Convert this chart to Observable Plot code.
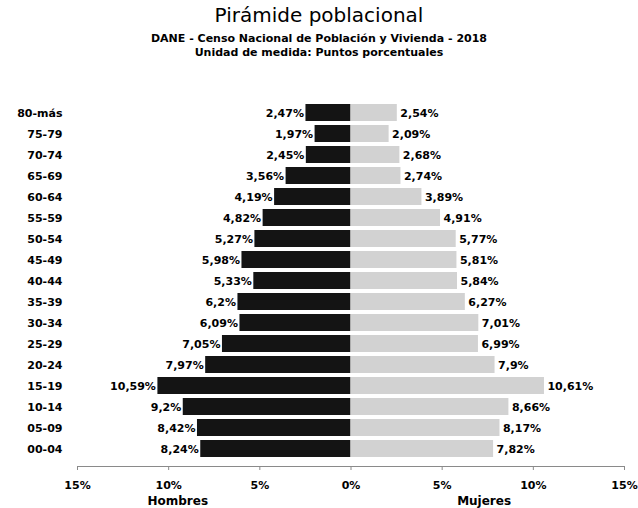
<!DOCTYPE html>
<html>
<head>
<meta charset="utf-8">
<script src="https://cdn.jsdelivr.net/npm/d3@7"></script>
<script src="https://cdn.jsdelivr.net/npm/@observablehq/plot@0.6"></script>
<style>
  body { margin: 0; background: #fff; font-family: "DejaVu Sans", sans-serif; }
  #head { height: 65px; text-align: center; color: #000; }
  #title { font-size: 20px; line-height: 24px; padding-top: 3px; }
  .sub { font-size: 11px; font-weight: 700; line-height: 14px; }
  .sub.first { margin-top: 5px; }
</style>
</head>
<body>
<div id="head">
  <div id="title">Pirámide poblacional</div>
  <div class="sub first">DANE - Censo Nacional de Población y Vivienda - 2018</div>
  <div class="sub">Unidad de medida: Puntos porcentuales</div>
</div>
<div id="chart"></div>
<script>
const ageGroups = ["80-más","75-79","70-74","65-69","60-64","55-59","50-54","45-49","40-44","35-39","30-34","25-29","20-24","15-19","10-14","05-09","00-04"];
const hombres = [2.47,1.97,2.45,3.56,4.19,4.82,5.27,5.98,5.33,6.2,6.09,7.05,7.97,10.59,9.2,8.42,8.24];
const mujeres = [2.54,2.09,2.68,2.74,3.89,4.91,5.77,5.81,5.84,6.27,7.01,6.99,7.9,10.61,8.66,8.17,7.82];
const xTicks = [-15,-10,-5,0,5,10,15];
const sideLabels = [{x: -9.5, t: "Hombres"}, {x: 7.3, t: "Mujeres"}];

const fmt = v => String(v).replace(".", ",") + "%";
const rows = [];
ageGroups.forEach((g, i) => {
  rows.push({age: g, sexo: "Hombres", v: -hombres[i], label: fmt(hombres[i])});
  rows.push({age: g, sexo: "Mujeres", v: mujeres[i], label: fmt(mujeres[i])});
});
const men = rows.filter(d => d.sexo === "Hombres");
const women = rows.filter(d => d.sexo === "Mujeres");

const chart = Plot.plot({
  width: 638,
  height: 443,
  marginTop: 30,
  marginBottom: 42,
  marginLeft: 77,
  marginRight: 14,
  style: {fontFamily: "DejaVu Sans, sans-serif", color: "#000", background: "#fff"},
  x: {domain: [-15, 15]},
  y: {domain: ageGroups, padding: 0.2},
  color: {domain: ["Hombres", "Mujeres"], range: ["#141414", "#d2d2d2"]},
  marks: [
    Plot.barX(rows, {x: "v", y: "age", fill: "sexo"}),
    Plot.text(men, {x: "v", y: "age", text: "label", textAnchor: "end", dx: -2, fontSize: 11, fontWeight: 700, fill: "#000"}),
    Plot.text(women, {x: "v", y: "age", text: "label", textAnchor: "start", dx: 3, fontSize: 11, fontWeight: 700, fill: "#000"}),
    Plot.frame({anchor: "bottom", stroke: "#8a8a8a"}),
    Plot.axisX({ticks: xTicks, tickFormat: d => Math.abs(d) + "%", tickSize: 4, tickPadding: 11, fontSize: 11, fontWeight: 700, stroke: "#8a8a8a", label: null}),
    Plot.axisY({tickSize: 0, tickPadding: 15, fontSize: 11, fontWeight: 700, label: null}),
    Plot.text(sideLabels, {x: "x", text: "t", frameAnchor: "bottom", dy: 38, fontSize: 12, fontWeight: 700, fill: "#000"})
  ]
});
document.getElementById("chart").appendChild(chart);
</script>
</body>
</html>
